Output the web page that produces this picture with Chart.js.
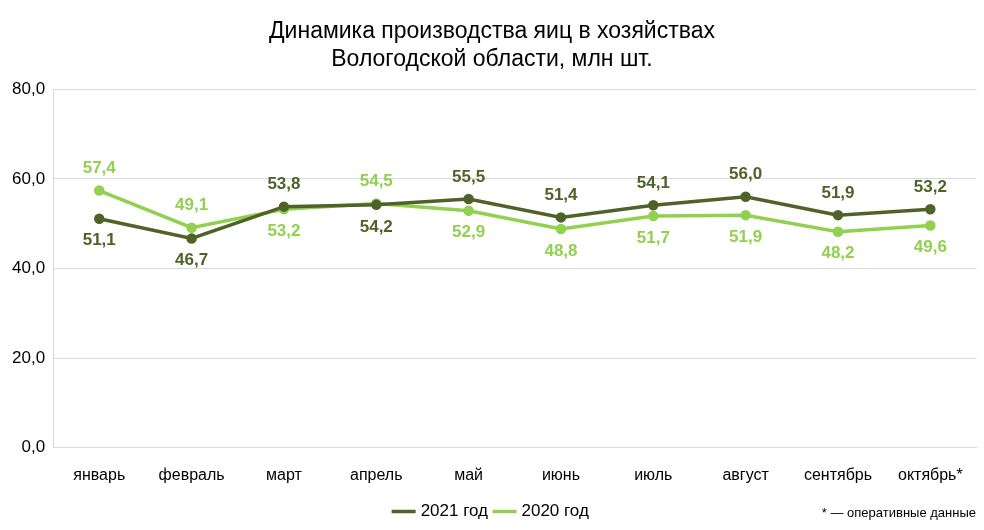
<!DOCTYPE html>
<html lang="ru">
<head>
<meta charset="UTF-8">
<script src="https://cdn.jsdelivr.net/npm/chart.js"></script>
<style>
    body { margin: 0; background: #fff; }
    #box { position: relative; width: 984px; height: 530px; }
    #note { position: absolute; right: 8px; bottom: 10px; font: 13px "Liberation Sans", Arial, sans-serif; color: #000; }
</style>
</head>
<body>
<div id="box">
    <canvas id="grafico" width="984" height="530"></canvas>
    <div id="note">* — оперативные данные</div>
</div>
<script>
const meses = ['январь', 'февраль', 'март', 'апрель', 'май', 'июнь', 'июль', 'август', 'сентябрь', 'октябрь*'];
const ano2021 = [51.1, 46.7, 53.8, 54.2, 55.5, 51.4, 54.1, 56.0, 51.9, 53.2];
const ano2020 = [57.4, 49.1, 53.2, 54.5, 52.9, 48.8, 51.7, 51.9, 48.2, 49.6];
// rótulo acima (true) ou abaixo (false)
const acima2021 = [false, false, true, false, true, true, true, true, true, true];
const acima2020 = [true, true, false, true, false, false, false, false, false, false];

const fonte = '"Liberation Sans", Arial, sans-serif';

// plugin simples para os rótulos dos pontos
const rotulos = {
    id: 'rotulos',
    afterDatasetsDraw(chart) {
        const ctx = chart.ctx;
        ctx.save();
        ctx.font = 'bold 17px ' + fonte;
        ctx.textAlign = 'center';
        ctx.textBaseline = 'middle';
        chart.data.datasets.forEach((ds, i) => {
            const meta = chart.getDatasetMeta(i);
            meta.data.forEach((pt, j) => {
                const up = ds.acima[j];
                ctx.fillStyle = ds.corRotulo;
                ctx.fillText(ds.data[j].toFixed(1).replace('.', ','), pt.x, pt.y + (up ? -22 : 22));
            });
        });
        ctx.restore();
    }
};

new Chart(document.getElementById('grafico'), {
    type: 'line',
    data: {
        labels: meses,
        datasets: [{
            label: '2021 год',
            data: ano2021,
            acima: acima2021,
            corRotulo: '#4f6228',
            borderColor: '#4f6228',
            backgroundColor: '#4f6228',
            borderWidth: 3.5,
            pointRadius: 3.5,
            order: 1
        }, {
            label: '2020 год',
            data: ano2020,
            acima: acima2020,
            corRotulo: '#92d050',
            borderColor: '#92d050',
            backgroundColor: '#92d050',
            borderWidth: 3.5,
            pointRadius: 3.5,
            order: 2
        }]
    },
    options: {
        responsive: false,
        animation: false,
        layout: { padding: { left: 4, right: 4, top: 4, bottom: 0 } },
        plugins: {
            title: {
                display: true,
                text: ['Динамика производства яиц в хозяйствах', 'Вологодской области, млн шт.'],
                font: { family: fonte, size: 23, weight: 'normal' },
                color: '#000',
                padding: { top: 14, bottom: 16 },
                lineHeight: 1.25
            },
            legend: {
                position: 'bottom',
                labels: {
                    font: { family: fonte, size: 17 },
                    color: '#000',
                    usePointStyle: true,
                    pointStyle: 'line',
                    boxWidth: 30,
                    padding: 8
                }
            },
            tooltip: { enabled: false }
        },
        scales: {
            x: {
                offset: true,
                grid: { display: false },
                border: { color: '#d9d9d9' },
                ticks: { font: { family: fonte, size: 16 }, color: '#000', padding: 10, maxRotation: 0 }
            },
            y: {
                min: 0, max: 80,
                ticks: {
                    stepSize: 20,
                    font: { family: fonte, size: 17 },
                    color: '#000',
                    padding: 8,
                    callback: v => v.toFixed(1).replace('.', ',')
                },
                grid: { color: '#d9d9d9', drawTicks: false },
                border: { color: '#d9d9d9' }
            }
        }
    },
    plugins: [rotulos]
});
</script>
</body>
</html>
